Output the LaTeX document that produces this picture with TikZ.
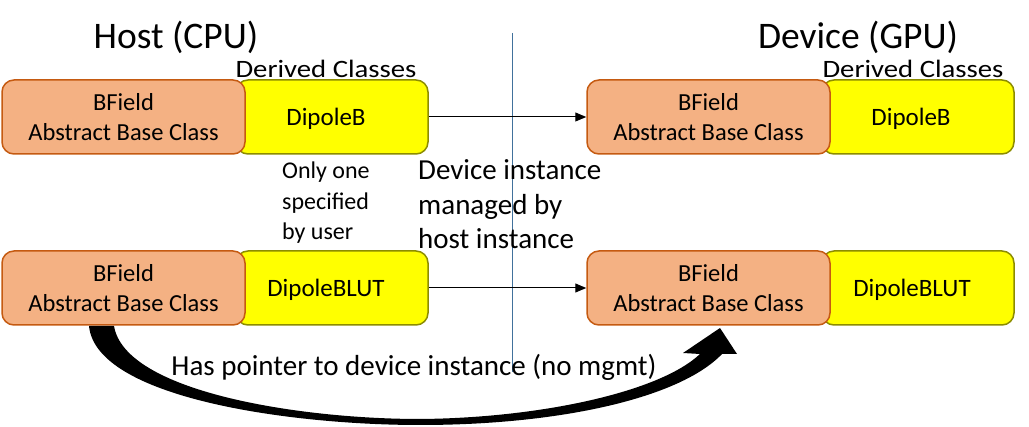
\documentclass[tikz,border=0pt]{standalone}
\usepackage{fontspec}
\setmainfont{Carlito}
\usetikzlibrary{arrows.meta}
\definecolor{orfill}{HTML}{F4B183}
\definecolor{ordraw}{HTML}{C55A11}
\definecolor{yefill}{HTML}{FFFF00}
\definecolor{yedraw}{HTML}{8C8C00}
\definecolor{vline}{HTML}{41719C}
\tikzset{
  basebox/.style={draw=ordraw, fill=orfill, line width=1.5pt, rounded corners=12pt,
    minimum width=243pt, minimum height=74pt, inner sep=0pt, align=center,
    font=\fontsize{24.5}{30}\selectfont},
  derivbox/.style={draw=yedraw, fill=yefill, line width=1.5pt, rounded corners=12pt,
    minimum width=192pt, minimum height=74pt, inner sep=0pt},
  derivtext/.style={font=\fontsize{25}{28}\selectfont, inner sep=0pt},
  title/.style={font=\fontsize{37.5}{42}\selectfont, inner sep=0pt},
  subtitle/.style={font=\fontsize{25}{28}\selectfont, inner sep=0pt, xscale=1.15},
  conn/.style={-{Triangle[length=11pt,width=9pt]}, line width=1pt},
}
\begin{document}
\begin{tikzpicture}[x=1pt,y=-1pt]
\useasboundingbox (0,0) rectangle (1029,427);
% titles
\node[title] (host) at (176,37) {Host (CPU)};
\node[title] (dev) at (858,37) {Device (GPU)};
\node[subtitle] (dcl) at (326,69) {Derived Classes};
\node[subtitle] (dcr) at (913,69) {Derived Classes};
% vertical separator
\coordinate (vtop) at (512,33);
\coordinate (vbot) at (512,372);
\draw[vline, line width=0.8pt] (vtop) -- (vbot);
% left top
\node[derivbox] (ylt) at (332,117) {};
\node[basebox] (olt) at (123.5,117) {BField\\Abstract Base Class};
\node[derivtext] (tlt) at (326,118.5) {DipoleB};
% left bottom
\node[derivbox] (ylb) at (332,288) {};
\node[basebox] (olb) at (123.5,288) {BField\\Abstract Base Class};
\node[derivtext] (tlb) at (326,289.5) {DipoleBLUT};
% right top
\node[derivbox] (yrt) at (918,117) {};
\node[basebox] (ort) at (708.5,117) {BField\\Abstract Base Class};
\node[derivtext] (trt) at (911,118.5) {DipoleB};
% right bottom
\node[derivbox] (yrb) at (918,288) {};
\node[basebox] (orb) at (708.5,288) {BField\\Abstract Base Class};
\node[derivtext] (trb) at (912,289.5) {DipoleBLUT};
% connectors
\draw[conn] (ylt.east) -- (ort.west);
\draw[conn] (ylb.east) -- (orb.west);
% notes
\node[anchor=north west, align=left, inner sep=0pt, font=\fontsize{24}{30.5}\selectfont] (only) at (282,162) {Only one\\specified\\by user};
\node[anchor=north west, align=left, inner sep=0pt, font=\fontsize{29}{34.5}\selectfont] (mng) at (418,159.5) {Device instance\\managed by\\host instance};
% curved thick arrow
\fill[black] (89,326) .. controls (96,398) and (290,425) .. (420,425)
  .. controls (560,425) and (680,398) .. (722,354)
  -- (737,354) -- (720,328) -- (683,353) -- (700,354)
  .. controls (660,392) and (540,418) .. (420,419)
  .. controls (300,419) and (125,392) .. (114,326) -- cycle;
\node[font=\fontsize{29}{32}\selectfont, inner sep=0pt] (ptr) at (414,367) {Has pointer to device instance (no mgmt)};
\end{tikzpicture}
\end{document}
